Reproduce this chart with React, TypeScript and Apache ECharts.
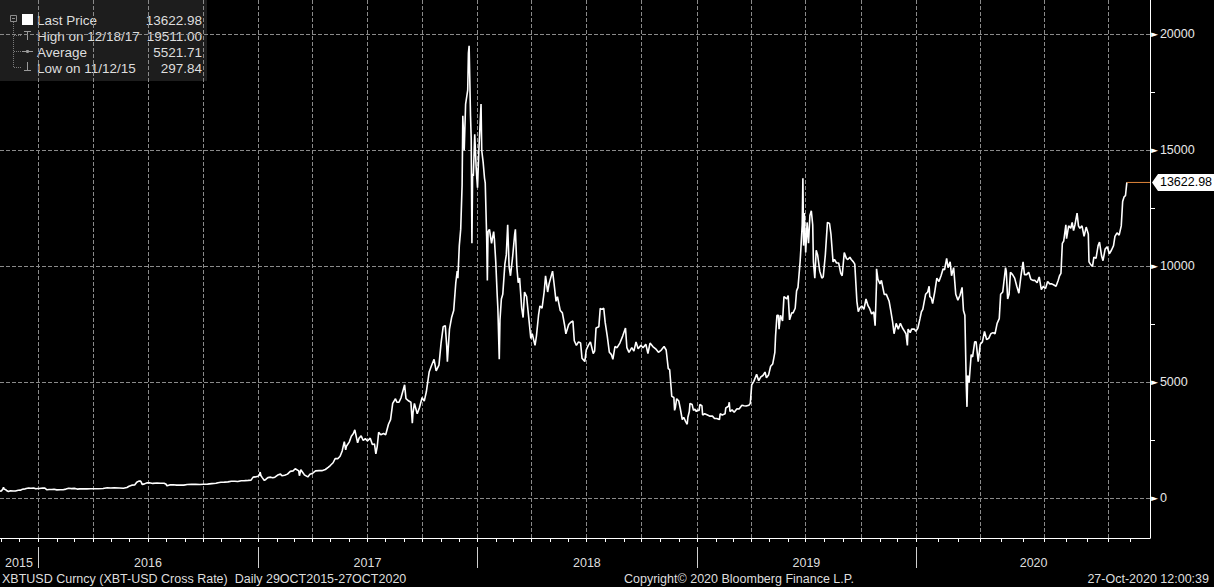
import React, { useEffect, useRef } from 'react';
import * as echarts from 'echarts';

// ---------- data ----------
const FIRST_DAY = '2015-10-29';
const LAST_DAY = '2020-10-27';
const AXIS_END_DAY = '2020-11-29';
const FULL_WEEK_FROM = '2020-01-01'; // before this the series has 6 sessions a week (no Saturday)

const LAST_PRICE = 13622.98;
const Y_TICKS = [0, 5000, 10000, 15000, 20000];

const legendLabels = ['Last Price', 'High on 12/18/17', 'Average', 'Low on 11/12/15'];
const legendValues = ['13622.98', '19511.00', '5521.71', '297.84'];

const footerLeft = 'XBTUSD Curncy (XBT-USD Cross Rate)  Daily 29OCT2015-27OCT2020';
const footerMid = 'Copyright\u00a9 2020 Bloomberg Finance L.P.';
const footerRight = '27-Oct-2020 12:00:39';

const p2015: [string, number][] = [
  ['10-29', 315], ['11-01', 325], ['11-03', 405], ['11-04', 480], ['11-05', 395], ['11-07', 385],
  ['11-10', 330], ['11-12', 300], ['11-16', 330], ['11-20', 325], ['11-24', 320], ['11-28', 355],
  ['12-02', 360], ['12-06', 395], ['12-10', 415], ['12-14', 445], ['12-16', 455], ['12-20', 440],
  ['12-24', 455], ['12-28', 420], ['12-31', 430],
];
const p2016: [string, number][] = [
  ['01-03', 430], ['01-08', 455], ['01-12', 445], ['01-15', 375], ['01-19', 385], ['01-23', 390],
  ['01-27', 395], ['02-01', 370], ['02-06', 375], ['02-11', 380], ['02-16', 405], ['02-20', 440],
  ['02-25', 425], ['03-01', 435], ['03-06', 405], ['03-10', 415], ['03-16', 415], ['03-22', 415],
  ['03-28', 420], ['04-03', 418], ['04-10', 420], ['04-18', 428], ['04-25', 460], ['04-30', 450],
  ['05-06', 460], ['05-14', 455], ['05-22', 440], ['05-27', 475], ['05-31', 530], ['06-04', 575],
  ['06-09', 580], ['06-13', 700], ['06-16', 750], ['06-18', 755], ['06-20', 730], ['06-22', 600],
  ['06-26', 630], ['06-30', 675], ['07-04', 680], ['07-10', 650], ['07-16', 665], ['07-22', 660],
  ['07-28', 655], ['08-01', 610], ['08-02', 545], ['08-06', 585], ['08-12', 590], ['08-18', 575],
  ['08-24', 580], ['08-30', 575], ['09-05', 605], ['09-12', 608], ['09-19', 610], ['09-26', 600],
  ['10-02', 615], ['10-09', 618], ['10-16', 640], ['10-22', 655], ['10-26', 680], ['10-31', 700],
  ['11-05', 705], ['11-11', 715], ['11-17', 740], ['11-23', 740], ['11-28', 730], ['12-03', 765],
  ['12-09', 770], ['12-15', 780], ['12-20', 790], ['12-23', 920], ['12-27', 930], ['12-31', 960],
];
const p2017: [string, number][] = [
  ['01-03', 1020], ['01-04', 1140], ['01-05', 990], ['01-07', 900], ['01-11', 780], ['01-13', 820],
  ['01-17', 900], ['01-21', 920], ['01-25', 895], ['01-29', 920], ['02-02', 1010], ['02-07', 1050],
  ['02-09', 980], ['02-14', 1000], ['02-18', 1050], ['02-23', 1170], ['02-28', 1190], ['03-03', 1280],
  ['03-09', 1190], ['03-10', 980], ['03-13', 1240], ['03-17', 1070], ['03-19', 1020], ['03-24', 930],
  ['03-28', 1040], ['04-01', 1090], ['04-06', 1190], ['04-12', 1200], ['04-17', 1200], ['04-22', 1250],
  ['04-27', 1340], ['05-01', 1420], ['05-05', 1540], ['05-09', 1720], ['05-13', 1720], ['05-17', 1820],
  ['05-20', 2050], ['05-24', 2450], ['05-26', 2100], ['05-28', 2250], ['06-01', 2430], ['06-05', 2680],
  ['06-08', 2800], ['06-11', 2960], ['06-15', 2400], ['06-18', 2600], ['06-21', 2700], ['06-25', 2500],
  ['06-28', 2580], ['07-02', 2480], ['07-06', 2600], ['07-10', 2330], ['07-13', 2350], ['07-16', 1920],
  ['07-18', 2250], ['07-20', 2850], ['07-24', 2750], ['07-28', 2800], ['08-01', 2750], ['08-05', 3200],
  ['08-09', 3400], ['08-13', 4100], ['08-17', 4300], ['08-20', 4150], ['08-23', 4150], ['08-27', 4350],
  ['09-01', 4900], ['09-04', 4300], ['09-08', 4200], ['09-12', 4150], ['09-14', 3250], ['09-15', 3700],
  ['09-18', 4100], ['09-22', 3650], ['09-26', 3900], ['09-30', 4350], ['10-04', 4200], ['10-08', 4600],
  ['10-12', 5450], ['10-16', 5700], ['10-20', 6000], ['10-24', 5500], ['10-28', 5750], ['11-01', 6700],
  ['11-05', 7400], ['11-08', 7450], ['11-10', 6600], ['11-12', 5900], ['11-15', 7300], ['11-18', 7800],
  ['11-22', 8100], ['11-26', 9300], ['11-28', 9800], ['11-29', 9500], ['12-01', 10900], ['12-04', 11600],
  ['12-06', 13500], ['12-07', 16500], ['12-09', 15000], ['12-12', 17000], ['12-15', 17600], ['12-17', 19200],
  ['12-18', 19511], ['12-20', 16500], ['12-21', 15500], ['12-22', 11000], ['12-23', 14000], ['12-25', 13900],
  ['12-27', 15700], ['12-29', 14300], ['12-31', 13800],
];
const p2018: [string, number][] = [
  ['01-01', 13400], ['01-03', 15100], ['01-06', 17000], ['01-08', 15000], ['01-10', 14500], ['01-12', 13800],
  ['01-14', 13600], ['01-16', 11300], ['01-17', 9400], ['01-18', 11500], ['01-21', 11600], ['01-24', 11000],
  ['01-27', 11500], ['01-29', 11200], ['01-31', 10200], ['02-02', 8800], ['02-04', 8200], ['02-06', 6000],
  ['02-07', 7700], ['02-09', 8600], ['02-12', 8800], ['02-15', 10100], ['02-18', 10500], ['02-20', 11800],
  ['02-22', 10000], ['02-25', 9600], ['02-28', 10400], ['03-03', 11400], ['03-05', 11600], ['03-07', 10000],
  ['03-09', 9300], ['03-12', 9500], ['03-15', 8200], ['03-18', 7800], ['03-20', 8900], ['03-23', 8700],
  ['03-27', 7800], ['03-30', 6900], ['04-02', 7100], ['04-06', 6600], ['04-09', 7000], ['04-12', 7900],
  ['04-15', 8300], ['04-18', 8200], ['04-21', 8900], ['04-24', 9600], ['04-27', 8900], ['04-30', 9250],
  ['05-05', 9800], ['05-08', 9300], ['05-11', 8500], ['05-14', 8700], ['05-18', 8100], ['05-22', 8000],
  ['05-25', 7500], ['05-28', 7100], ['06-01', 7500], ['06-05', 7600], ['06-08', 7650], ['06-11', 6800],
  ['06-14', 6600], ['06-18', 6750], ['06-21', 6700], ['06-24', 6050], ['06-28', 5900], ['06-30', 6400],
  ['07-04', 6600], ['07-08', 6750], ['07-12', 6250], ['07-15', 6350], ['07-17', 7350], ['07-21', 7400],
  ['07-24', 8200], ['07-26', 8150], ['07-30', 8200], ['08-01', 7600], ['08-04', 7000], ['08-08', 6300],
  ['08-11', 6200], ['08-14', 6000], ['08-17', 6550], ['08-21', 6500], ['08-25', 6700], ['08-30', 7000],
  ['09-04', 7350], ['09-06', 6500], ['09-10', 6300], ['09-14', 6500], ['09-18', 6350], ['09-21', 6750],
  ['09-25', 6450], ['09-29', 6600], ['10-03', 6500], ['10-08', 6650], ['10-11', 6250], ['10-15', 6700],
  ['10-19', 6550], ['10-24', 6450], ['10-29', 6300], ['11-02', 6400], ['11-07', 6550], ['11-11', 6400],
  ['11-14', 5600], ['11-16', 5550], ['11-19', 4800], ['11-20', 4400], ['11-23', 4350], ['11-25', 3800],
  ['11-26', 3900], ['11-28', 4300], ['12-01', 4200], ['12-04', 3900], ['12-07', 3400], ['12-10', 3500],
  ['12-13', 3300], ['12-15', 3200], ['12-17', 3500], ['12-19', 3750], ['12-20', 4100], ['12-24', 4050],
  ['12-26', 3800], ['12-28', 3850], ['12-31', 3750],
];
const p2019: [string, number][] = [
  ['01-01', 3800], ['01-04', 3800], ['01-06', 4050], ['01-09', 4000], ['01-10', 3600], ['01-14', 3650],
  ['01-18', 3600], ['01-22', 3550], ['01-27', 3550], ['01-30', 3450], ['02-03', 3450], ['02-07', 3400],
  ['02-08', 3650], ['02-12', 3600], ['02-16', 3650], ['02-18', 3900], ['02-22', 3980], ['02-24', 4150],
  ['02-25', 3750], ['02-28', 3820], ['03-04', 3720], ['03-08', 3870], ['03-12', 3860], ['03-16', 4020],
  ['03-20', 4000], ['03-24', 3990], ['03-28', 4020], ['03-31', 4100], ['04-02', 4900], ['04-05', 5050],
  ['04-08', 5200], ['04-10', 5350], ['04-13', 5080], ['04-17', 5240], ['04-21', 5300], ['04-24', 5450],
  ['04-26', 5200], ['04-30', 5320], ['05-03', 5700], ['05-07', 5800], ['05-10', 6300], ['05-12', 7000],
  ['05-14', 7900], ['05-16', 7900], ['05-17', 7300], ['05-20', 7900], ['05-23', 7650], ['05-26', 8700],
  ['05-30', 8600], ['06-02', 8750], ['06-04', 7700], ['06-07', 8000], ['06-10', 8000], ['06-13', 8200],
  ['06-16', 8950], ['06-18', 9100], ['06-21', 10200], ['06-23', 10700], ['06-25', 11800], ['06-26', 13800],
  ['06-27', 10900], ['06-28', 12300], ['07-01', 10600], ['07-03', 11900], ['07-05', 11000], ['07-08', 12200],
  ['07-10', 12400], ['07-12', 11800], ['07-14', 10200], ['07-16', 9500], ['07-18', 10700], ['07-21', 10500],
  ['07-24', 9800], ['07-27', 9500], ['07-30', 9550], ['08-02', 10500], ['08-06', 11900], ['08-09', 11850],
  ['08-12', 11400], ['08-15', 10200], ['08-18', 10300], ['08-21', 10150], ['08-24', 10150], ['08-28', 9700],
  ['08-30', 9600], ['09-03', 10600], ['09-06', 10350], ['09-09', 10300], ['09-12', 10400], ['09-15', 10300],
  ['09-18', 10200], ['09-20', 10100], ['09-24', 8500], ['09-26', 8050], ['09-29', 8200], ['10-02', 8300],
  ['10-05', 8150], ['10-09', 8600], ['10-12', 8300], ['10-15', 8200], ['10-18', 7950], ['10-22', 8050],
  ['10-24', 7450], ['10-26', 9300], ['10-27', 9900], ['10-29', 9450], ['11-01', 9250], ['11-04', 9400],
  ['11-08', 8800], ['11-12', 8800], ['11-16', 8500], ['11-19', 8150], ['11-22', 7600], ['11-25', 7100],
  ['11-28', 7550], ['12-02', 7300], ['12-05', 7550], ['12-09', 7350], ['12-12', 7200], ['12-15', 7100],
  ['12-17', 6600], ['12-18', 7300], ['12-21', 7150], ['12-24', 7300], ['12-28', 7300], ['12-31', 7200],
];
const p2020: [string, number][] = [
  ['01-01', 7200], ['01-03', 7350], ['01-06', 7750], ['01-08', 8050], ['01-10', 8150], ['01-14', 8800],
  ['01-17', 8900], ['01-19', 9150], ['01-20', 8700], ['01-22', 8650], ['01-24', 8400], ['01-27', 8900],
  ['01-30', 9500], ['02-02', 9350], ['02-05', 9600], ['02-08', 9900], ['02-10', 9850], ['02-13', 10350],
  ['02-15', 9950], ['02-18', 10200], ['02-20', 9600], ['02-23', 9950], ['02-26', 8800], ['02-29', 8550],
  ['03-03', 8750], ['03-06', 9100], ['03-08', 8100], ['03-10', 7900], ['03-12', 4900], ['03-13', 3950],
  ['03-14', 5300], ['03-16', 5000], ['03-19', 6200], ['03-21', 6100], ['03-24', 6750], ['03-26', 6750],
  ['03-29', 5900], ['04-01', 6650], ['04-04', 6750], ['04-07', 7200], ['04-10', 6850], ['04-13', 6900],
  ['04-16', 7100], ['04-19', 7150], ['04-22', 7100], ['04-25', 7550], ['04-28', 7750], ['04-30', 8800],
  ['05-03', 8900], ['05-07', 9950], ['05-08', 9800], ['05-10', 8600], ['05-12', 8800], ['05-14', 9750],
  ['05-17', 9650], ['05-20', 9500], ['05-23', 9150], ['05-26', 8850], ['05-29', 9600], ['06-01', 10200],
  ['06-03', 9650], ['06-06', 9650], ['06-09', 9750], ['06-12', 9450], ['06-15', 9400], ['06-18', 9400],
  ['06-21', 9300], ['06-24', 9550], ['06-27', 9000], ['06-30', 9150], ['07-03', 9050], ['07-06', 9350],
  ['07-09', 9250], ['07-12', 9250], ['07-15', 9200], ['07-18', 9150], ['07-21', 9400], ['07-23', 9600],
  ['07-25', 9700], ['07-27', 11000], ['07-29', 11100], ['08-01', 11800], ['08-02', 11200], ['08-05', 11750],
  ['08-08', 11650], ['08-10', 11900], ['08-12', 11550], ['08-14', 11800], ['08-17', 12300], ['08-19', 11750],
  ['08-21', 11650], ['08-24', 11750], ['08-27', 11300], ['08-30', 11700], ['09-02', 11400], ['09-03', 10200],
  ['09-05', 10100], ['09-08', 10000], ['09-10', 10400], ['09-13', 10350], ['09-16', 10900], ['09-18', 11050],
  ['09-21', 10450], ['09-23', 10250], ['09-26', 10750], ['09-29', 10850], ['10-02', 10550], ['10-05', 10700],
  ['10-08', 10900], ['10-10', 11300], ['10-13', 11450], ['10-16', 11350], ['10-19', 11750], ['10-21', 12800],
  ['10-23', 13000], ['10-25', 13050], ['10-27', 13622.98],
];
const priceByYear: [number, [string, number][]][] = [
  [2015, p2015], [2016, p2016], [2017, p2017], [2018, p2018], [2019, p2019], [2020, p2020],
];

// ---------- helpers ----------
const FONT = '"Liberation Sans", Arial, sans-serif';
const TXT = '#dedede';
const GRID = '#8a8a8a';

function buildCategories(): string[] {
  const out: string[] = [];
  const d = new Date(FIRST_DAY + 'T00:00:00Z');
  const end = new Date(AXIS_END_DAY + 'T00:00:00Z').getTime();
  while (d.getTime() <= end) {
    const iso = d.toISOString().slice(0, 10);
    if (!(iso < FULL_WEEK_FROM && d.getUTCDay() === 6)) out.push(iso);
    d.setUTCDate(d.getUTCDate() + 1);
  }
  return out;
}

export default function App() {
  const ref = useRef<HTMLDivElement | null>(null);

  useEffect(() => {
    if (!ref.current) return;
    const chart = echarts.init(ref.current, undefined, { renderer: 'svg' });

    const cats = buildCategories();
    const catIndex = new Map<string, number>();
    cats.forEach((c, i) => catIndex.set(c, i));
    const idxOf = (iso: string) => {
      const d = new Date(iso + 'T00:00:00Z');
      for (let k = 0; k < 4; k++) {
        const i = catIndex.get(d.toISOString().slice(0, 10));
        if (i !== undefined) return i;
        d.setUTCDate(d.getUTCDate() + 1);
      }
      return -1;
    };

    const monthStart = new Set<number>();
    const quarterStartList: number[] = [];
    const yearStart = new Set<number>();
    const yearRange = new Map<string, [number, number]>();
    cats.forEach((c, i) => {
      const y = c.slice(0, 4);
      const r = yearRange.get(y);
      if (r) r[1] = i; else yearRange.set(y, [i, i]);
      if (i === 0) return;
      const prev = cats[i - 1];
      if (prev.slice(5, 7) !== c.slice(5, 7)) {
        monthStart.add(i);
        const m = Number(c.slice(5, 7));
        if (m === 1 || m === 4 || m === 7 || m === 10) quarterStartList.push(i);
        if (m === 1) yearStart.add(i);
      }
    });
    const yearMid = new Set<number>();
    yearRange.forEach(([a, b]) => yearMid.add(Math.round((a + b) / 2)));

    const seriesData: [number, number][] = [];
    priceByYear.forEach(([yr, arr]) => {
      arr.forEach(([md, v]) => seriesData.push([idxOf(`${yr}-${md}`), v]));
    });

    const lastIdx = idxOf(LAST_DAY);
    const endIdx = cats.length - 1;

    const legendGraphics: any[] = [
      { type: 'rect', shape: { x: 0, y: 0, width: 207, height: 81 }, style: { fill: '#1d1d1d' }, silent: true },
      { type: 'rect', shape: { x: 10.5, y: 15.5, width: 6, height: 6 }, style: { fill: 'none', stroke: '#8c8c8c', lineWidth: 1 } },
      { type: 'line', shape: { x1: 12, y1: 18.5, x2: 15, y2: 18.5 }, style: { stroke: '#8c8c8c', lineWidth: 1 } },
      { type: 'line', shape: { x1: 13.5, y1: 22, x2: 13.5, y2: 68 }, style: { stroke: '#7a7a7a', lineWidth: 1, lineDash: [1, 1] } },
      { type: 'line', shape: { x1: 14, y1: 35.5, x2: 21, y2: 35.5 }, style: { stroke: '#7a7a7a', lineWidth: 1, lineDash: [1, 1] } },
      { type: 'line', shape: { x1: 14, y1: 51.5, x2: 21, y2: 51.5 }, style: { stroke: '#7a7a7a', lineWidth: 1, lineDash: [1, 1] } },
      { type: 'line', shape: { x1: 14, y1: 67.5, x2: 21, y2: 67.5 }, style: { stroke: '#7a7a7a', lineWidth: 1, lineDash: [1, 1] } },
      { type: 'rect', shape: { x: 22, y: 14, width: 11, height: 11 }, style: { fill: '#ffffff' } },
      { type: 'line', shape: { x1: 24, y1: 31.5, x2: 31, y2: 31.5 }, style: { stroke: '#9a9a9a', lineWidth: 1 } },
      { type: 'line', shape: { x1: 27.5, y1: 31.5, x2: 27.5, y2: 40 }, style: { stroke: '#9a9a9a', lineWidth: 1 } },
      { type: 'line', shape: { x1: 22, y1: 51.5, x2: 33, y2: 51.5 }, style: { stroke: '#9a9a9a', lineWidth: 1 } },
      { type: 'circle', shape: { cx: 27.5, cy: 51.5, r: 1.6 }, style: { fill: '#9a9a9a' } },
      { type: 'line', shape: { x1: 27.5, y1: 62, x2: 27.5, y2: 70.5 }, style: { stroke: '#9a9a9a', lineWidth: 1 } },
      { type: 'line', shape: { x1: 24, y1: 70.5, x2: 31, y2: 70.5 }, style: { stroke: '#9a9a9a', lineWidth: 1 } },
    ];
    const rowY = [20, 36, 52, 68];
    legendLabels.forEach((t, i) => {
      legendGraphics.push({
        type: 'text', x: 37, y: rowY[i],
        style: { text: t, fill: TXT, font: `13.5px ${FONT}`, align: 'left', verticalAlign: 'middle' },
      });
      legendGraphics.push({
        type: 'text', x: 202, y: rowY[i],
        style: { text: legendValues[i], fill: TXT, font: `13.5px ${FONT}`, align: 'right', verticalAlign: 'middle' },
      });
    });
    const footer: any[] = [
      { type: 'text', x: 2, y: 579, style: { text: footerLeft, fill: TXT, font: `12.5px ${FONT}`, align: 'left', verticalAlign: 'middle' } },
      { type: 'text', x: 624, y: 579, style: { text: footerMid, fill: TXT, font: `12.5px ${FONT}`, align: 'left', verticalAlign: 'middle' } },
      { type: 'text', x: 1209, y: 579, style: { text: footerRight, fill: TXT, font: `12.5px ${FONT}`, align: 'right', verticalAlign: 'middle' } },
    ];

    const gridMarkLines = [
      ...Y_TICKS.map((v) => ({ yAxis: v })),
      ...quarterStartList.map((i) => ({ xAxis: i })),
    ];

    chart.setOption({
      animation: false,
      backgroundColor: '#000000',
      textStyle: { fontFamily: FONT },
      grid: { left: 0, right: 64, top: 0, bottom: 49, containLabel: false },
      xAxis: [
        {
          type: 'category',
          data: cats,
          boundaryGap: false,
          axisLine: { show: true, onZero: false, lineStyle: { color: '#ffffff', width: 1 } },
          axisTick: { show: true, length: 4, interval: (i: number) => monthStart.has(i), lineStyle: { color: '#ffffff' } },
          axisLabel: { show: false },
          splitLine: { show: false },
        },
        {
          type: 'category',
          data: cats,
          boundaryGap: false,
          position: 'bottom',
          offset: 9,
          axisLine: { show: false, onZero: false },
          axisTick: { show: true, length: 21, interval: (i: number) => yearStart.has(i), lineStyle: { color: '#d0d0d0' } },
          axisLabel: {
            show: true,
            interval: (i: number) => yearMid.has(i),
            formatter: (v: string) => v.slice(0, 4),
            color: TXT,
            fontSize: 12.5,
            fontFamily: FONT,
            margin: 9,
          },
          splitLine: { show: false },
        },
      ],
      yAxis: {
        type: 'value',
        position: 'right',
        min: -1703,
        max: 21487,
        splitNumber: 5,
        axisLine: { show: true, onZero: false, lineStyle: { color: '#ffffff', width: 1 } },
        axisTick: { show: false },
        minorTick: { show: true, splitNumber: 2, length: 5, lineStyle: { color: '#ffffff' } },
        splitLine: { show: false },
        axisLabel: {
          showMinLabel: false,
          showMaxLabel: false,
          margin: 1,
          formatter: (v: number) => `{a|\u25BA}{b|${v}}`,
          rich: {
            a: { fontSize: 9, color: '#ffffff', fontFamily: '"DejaVu Sans"' },
            b: { fontSize: 12.5, color: '#e8e8e8', fontFamily: FONT, padding: [0, 0, 0, 2] },
          },
        },
      },
      series: [
        {
          type: 'line',
          xAxisIndex: 0,
          data: seriesData,
          showSymbol: false,
          symbol: 'none',
          lineStyle: { color: '#ffffff', width: 1.6 },
          z: 3,
          markLine: {
            silent: true,
            symbol: ['none', 'none'],
            label: { show: false },
            lineStyle: { color: GRID, type: 'dashed', width: 1, dashOffset: 0 },
            data: gridMarkLines,
            z: 1,
          },
        },
        {
          type: 'line',
          xAxisIndex: 0,
          data: [[lastIdx, LAST_PRICE], [endIdx, LAST_PRICE]],
          showSymbol: false,
          symbol: 'none',
          lineStyle: { color: '#e0853a', width: 1 },
          z: 4,
          markPoint: {
            silent: true,
            symbol: 'path://M0,8.5 L6,0 L62,0 L62,17 L6,17 Z',
            symbolSize: [62, 17],
            symbolOffset: [33, 0],
            symbolKeepAspect: false,
            itemStyle: { color: '#ffffff' },
            label: {
              show: true,
              position: 'inside',
              formatter: LAST_PRICE.toFixed(2),
              color: '#000000',
              fontSize: 12.5,
              fontFamily: FONT,
              offset: [3, 0],
            },
            data: [{ coord: [endIdx, LAST_PRICE] }],
          },
        },
      ],
      graphic: [...legendGraphics, ...footer],
    });

    return () => chart.dispose();
  }, []);

  return (
    <div
      ref={ref}
      style={{ position: 'fixed', left: 0, top: 0, width: 1214, height: 587, background: '#000' }}
    />
  );
}
